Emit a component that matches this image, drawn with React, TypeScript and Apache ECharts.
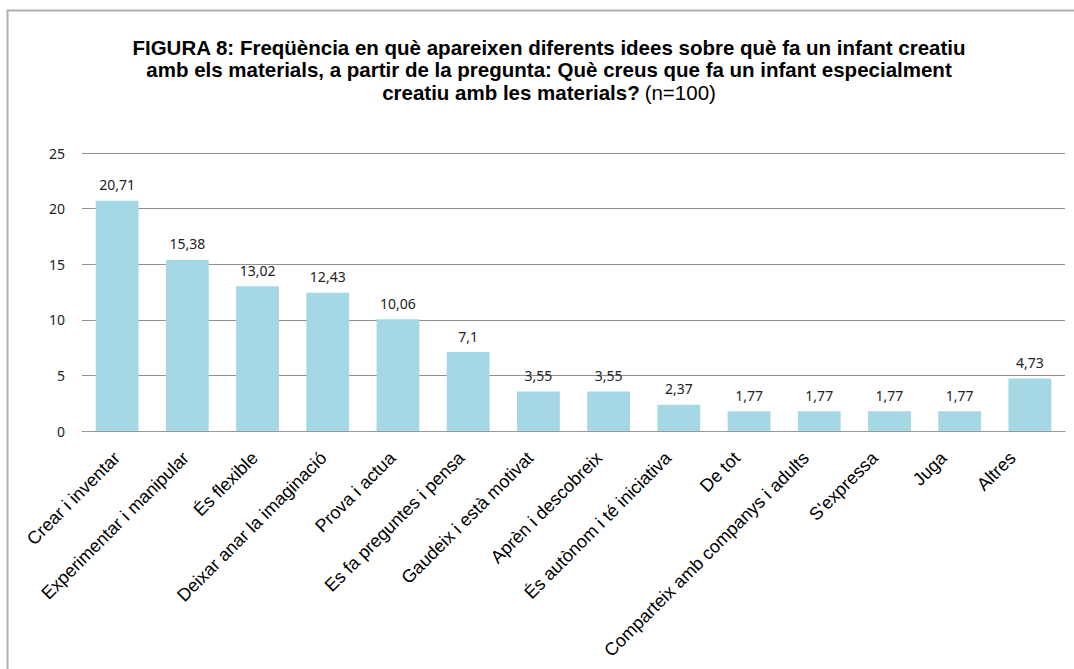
import React, { useEffect, useRef } from "react";
import * as echarts from "echarts";

const categories = [
  "Crear i inventar",
  "Experimentar i manipular",
  "És flexible",
  "Deixar anar la imaginació",
  "Prova i actua",
  "Es fa preguntes i pensa",
  "Gaudeix i està motivat",
  "Aprèn i descobreix",
  "És autònom i té iniciativa",
  "De tot",
  "Comparteix amb companys i adults",
  "S'expressa",
  "Juga",
  "Altres",
];
const values = [20.71, 15.38, 13.02, 12.43, 10.06, 7.1, 3.55, 3.55, 2.37, 1.77, 1.77, 1.77, 1.77, 4.73];
const titleLines = [
  "FIGURA 8: Freqüència en què apareixen diferents idees sobre què fa un infant creatiu",
  "amb els materials, a partir de la pregunta: Què creus que fa un infant especialment",
  "creatiu amb les materials?",
];
const titleSuffix = "(n=100)";

export default function App() {
  const ref = useRef<HTMLDivElement>(null);
  useEffect(() => {
    document.body.style.margin = "0";
    const chart = echarts.init(ref.current!, null, { renderer: "svg" });
    chart.setOption({
      animation: false,
      backgroundColor: "#fff",
      title: {
        left: 544,
        textAlign: "center",
        top: 31,
        text:
          "{b|" + titleLines[0] + "}\n{b|" + titleLines[1] + "}\n{b|" + titleLines[2] + "} {n|" + titleSuffix + "}",
        textStyle: {
          rich: {
            b: { fontFamily: "Liberation Sans, Arial", fontWeight: "bold", fontSize: 20.5, lineHeight: 22.5, color: "#000" },
            n: { fontFamily: "Liberation Sans, Arial", fontWeight: "normal", fontSize: 20.5, lineHeight: 22.5, color: "#000" },
          },
        },
      },
      graphic: [
        {
          type: "rect",
          shape: { x: 7.5, y: 10.5, width: 1200, height: 800 },
          style: { fill: "none", stroke: "#b0b0b0", lineWidth: 2 },
          silent: true,
        },
      ],
      grid: [
        { left: 82, right: 9, top: 153, bottom: 238, containLabel: false },
        { left: 82.5, right: 27, top: 153, bottom: 238, containLabel: false },
      ],
      xAxis: [
        {
          type: "category",
          gridIndex: 0,
          data: categories,
          axisLine: { lineStyle: { color: "#999", width: 1 } },
          axisTick: { show: false },
          axisLabel: { show: false },
        },
        {
          type: "category",
          gridIndex: 1,
          data: categories,
          axisLine: { show: false },
          axisTick: { show: false },
          axisLabel: {
            rotate: 45,
            interval: 0,
            fontFamily: "Liberation Sans, Arial",
            fontSize: 18,
            color: "#000",
            margin: 24,
          },
        },
      ],
      yAxis: [
        {
          type: "value",
          gridIndex: 0,
          min: 0,
          max: 25,
          interval: 5,
          axisLine: { show: false },
          axisTick: { show: false },
          splitLine: { lineStyle: { color: "#909090", width: 1 } },
          axisLabel: {
            fontFamily: "Noto Sans, sans-serif",
            fontSize: 14,
            color: "#222",
            margin: 17,
          },
        },
        {
          type: "value",
          gridIndex: 1,
          min: 0,
          max: 25,
          interval: 5,
          show: false,
        },
      ],
      series: [
        {
          type: "bar",
          xAxisIndex: 0,
          yAxisIndex: 0,
          data: values,
          barWidth: "61%",
          itemStyle: { color: "#A5D8E4" },
          label: {
            show: true,
            position: "top",
            distance: 9,
            fontFamily: "Noto Sans, sans-serif",
            fontSize: 14,
            color: "#222",
            formatter: (p: any) => String(p.value).replace(".", ","),
          },
        },
      ],
    });
    return () => chart.dispose();
  }, []);
  return <div ref={ref} style={{ width: 1074, height: 669 }} />;
}
